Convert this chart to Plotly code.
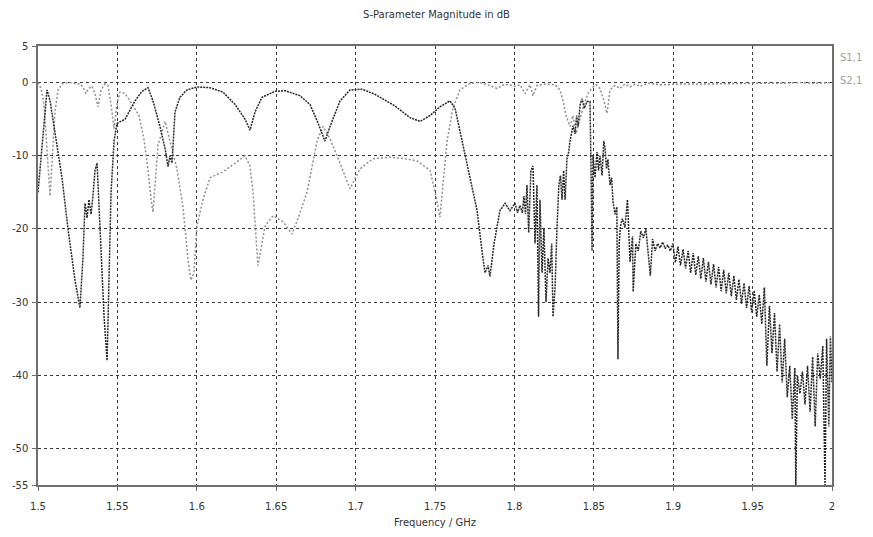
import plotly.graph_objects as go

# S2,1 transmission (GHz, dB)
s21_freq = [
    1.5000, 1.5031, 1.5057, 1.5076, 1.5107, 1.5151, 1.5189, 1.5233, 1.5264, 1.5283,
    1.5296, 1.5309, 1.5321, 1.5334, 1.5346, 1.5359, 1.5372, 1.5390, 1.5416, 1.5435,
    1.5447, 1.5460, 1.5479, 1.5497, 1.5548, 1.5611, 1.5655, 1.5693, 1.5724, 1.5768,
    1.5800, 1.5819, 1.5831, 1.5844, 1.5863, 1.5894, 1.5938, 1.6001, 1.6083, 1.6165,
    1.6241, 1.6304, 1.6335, 1.6367, 1.6411, 1.6492, 1.6555, 1.6650, 1.6713, 1.6763,
    1.6807, 1.6839, 1.6902, 1.6965, 1.7040, 1.7122, 1.7248, 1.7343, 1.7406, 1.7469,
    1.7531, 1.7594, 1.7626, 1.7670, 1.7720, 1.7765, 1.7796, 1.7815, 1.7834, 1.7846,
    1.7872, 1.7909, 1.7941, 1.7972, 1.8004, 1.8020, 1.8035, 1.8050, 1.8060, 1.8070,
    1.8079, 1.8090, 1.8104, 1.8117, 1.8130, 1.8142, 1.8152, 1.8161, 1.8174, 1.8186,
    1.8199, 1.8212, 1.8224, 1.8235, 1.8243, 1.8256, 1.8268, 1.8280, 1.8290, 1.8300,
    1.8310, 1.8319, 1.8331, 1.8342, 1.8350, 1.8360, 1.8369, 1.8382, 1.8392, 1.8401,
    1.8414, 1.8426, 1.8440, 1.8457, 1.8476, 1.8484, 1.8489, 1.8495, 1.8508, 1.8520,
    1.8530, 1.8539, 1.8552, 1.8563, 1.8571, 1.8580, 1.8589, 1.8602, 1.8612, 1.8621,
    1.8634, 1.8645, 1.8652, 1.8660, 1.8668, 1.8680, 1.8696, 1.8712, 1.8728, 1.8744,
    1.8748, 1.8765, 1.8780, 1.8796, 1.8812, 1.8828, 1.8844, 1.8856, 1.8870, 1.8886,
    1.8902, 1.8918, 1.8934, 1.8950, 1.8966, 1.8982, 1.8998, 1.9014, 1.9030, 1.9046,
    1.9062, 1.9078, 1.9094, 1.9110, 1.9126, 1.9142, 1.9158, 1.9174, 1.9190, 1.9206,
    1.9222, 1.9238, 1.9254, 1.9270, 1.9286, 1.9302, 1.9318, 1.9334, 1.9350, 1.9366,
    1.9382, 1.9398, 1.9414, 1.9430, 1.9446, 1.9462, 1.9478, 1.9494, 1.9510, 1.9526,
    1.9542, 1.9558, 1.9574, 1.9590, 1.9606, 1.9622, 1.9638, 1.9654, 1.9670, 1.9686,
    1.9702, 1.9718, 1.9734, 1.9750, 1.9766, 1.9772, 1.9782, 1.9798, 1.9814, 1.9830,
    1.9846, 1.9862, 1.9878, 1.9894, 1.9910, 1.9926, 1.9942, 1.9956, 1.9966, 1.9980,
    1.9990, 2.0000,
]
s21_db = [
    -15.0, -7.0, -1.0, -2.5, -7.0, -13.0, -20.0, -27.0, -30.8, -24.0,
    -16.5, -18.5, -16.0, -18.0, -15.5, -12.0, -11.0, -20.0, -32.0, -38.0,
    -28.0, -15.0, -8.0, -5.6, -5.0, -2.5, -1.2, -0.7, -2.5, -6.0,
    -9.0, -11.5, -10.0, -11.0, -4.0, -2.0, -1.0, -0.6, -0.7, -1.3,
    -3.0, -5.0, -6.5, -4.0, -2.0, -1.2, -1.1, -1.8, -3.0, -5.5,
    -8.0, -6.0, -2.5, -1.0, -0.9, -1.6, -3.2, -4.8, -5.3, -4.5,
    -3.3, -2.5, -3.5, -8.0, -13.0, -17.5, -23.0, -26.0, -25.0, -26.5,
    -22.0, -17.5, -16.5, -17.5, -16.5, -17.8, -16.8, -17.8, -15.5, -18.0,
    -14.0, -20.5, -12.0, -11.4, -22.0, -14.0, -32.0, -16.0, -26.0, -20.0,
    -30.0, -24.0, -26.0, -22.0, -32.0, -28.0, -20.0, -14.0, -12.7, -16.0,
    -12.0, -16.0, -10.4, -9.5, -8.0, -7.0, -5.9, -7.0, -4.5, -6.0,
    -3.0, -2.2, -3.5, -2.6, -2.6, -14.0, -23.0, -10.0, -13.0, -9.5,
    -12.0, -10.0, -12.7, -8.0, -9.0, -11.8, -10.5, -14.0, -13.0, -16.3,
    -18.0, -17.0, -37.8, -22.0, -19.6, -18.6, -19.8, -16.0, -24.5, -21.0,
    -28.6, -22.0, -23.0, -20.3, -21.2, -20.0, -23.5, -26.4, -21.4, -23.0,
    -22.0, -22.6, -21.8, -22.7, -22.2, -23.0, -22.0, -24.6, -22.4, -25.0,
    -22.8, -25.4, -23.0, -26.0, -23.3, -26.3, -23.7, -26.8, -24.0, -27.2,
    -24.5, -27.6, -24.8, -28.0, -25.2, -28.5, -25.6, -28.8, -26.0, -29.2,
    -26.4, -29.7, -26.9, -30.2, -27.4, -30.8, -27.8, -31.4, -28.4, -32.0,
    -29.0, -33.0, -28.0, -38.7, -30.5, -37.0, -31.5, -39.5, -33.0, -41.0,
    -35.0, -43.0, -38.7, -46.0, -39.0, -55.0, -40.0, -42.5, -39.5, -44.0,
    -38.7, -45.0, -37.5, -47.0, -37.0, -40.5, -36.0, -55.0, -35.0, -47.0,
    -34.7, -41.0,
]

# S1,1 reflection (GHz, dB)
s11_freq = [
    1.5000, 1.5019, 1.5038, 1.5057, 1.5069, 1.5076, 1.5088, 1.5107, 1.5126, 1.5157,
    1.5202, 1.5264, 1.5283, 1.5302, 1.5315, 1.5340, 1.5359, 1.5378, 1.5397, 1.5422,
    1.5441, 1.5460, 1.5479, 1.5497, 1.5516, 1.5548, 1.5580, 1.5636, 1.5667, 1.5693,
    1.5712, 1.5724, 1.5737, 1.5756, 1.5787, 1.5800, 1.5831, 1.5875, 1.5913, 1.5944,
    1.5963, 1.5982, 1.6001, 1.6039, 1.6083, 1.6165, 1.6254, 1.6304, 1.6335, 1.6354,
    1.6385, 1.6411, 1.6430, 1.6480, 1.6543, 1.6599, 1.6637, 1.6694, 1.6757, 1.6794,
    1.6839, 1.6883, 1.6965, 1.7028, 1.7110, 1.7217, 1.7311, 1.7387, 1.7469, 1.7506,
    1.7531, 1.7550, 1.7576, 1.7613, 1.7657, 1.7720, 1.7783, 1.7846, 1.7890, 1.7941,
    1.8004, 1.8035, 1.8067, 1.8098, 1.8117, 1.8142, 1.8193, 1.8256, 1.8287, 1.8306,
    1.8325, 1.8350, 1.8369, 1.8388, 1.8413, 1.8438, 1.8463, 1.8489, 1.8514, 1.8539,
    1.8564, 1.8583, 1.8602, 1.8634, 1.8665, 1.8696, 1.8728, 1.8759, 1.8791, 1.8841,
    1.8917, 1.9043, 1.9200, 1.9350, 1.9500, 1.9650, 1.9800, 1.9900, 2.0000,
]
s11_db = [
    0.0, -0.8, -3.0, -9.0, -14.0, -15.5, -11.0, -4.0, -1.0, -0.1,
    0.0, -0.2, -0.6, -1.5, -0.9, -0.5, -1.5, -3.3, -1.0, -0.2,
    -0.4, -3.0, -6.3, -3.0, -1.3, -1.5, -2.5, -4.5, -7.7, -12.0,
    -16.0, -17.7, -14.0, -8.5, -6.3, -5.3, -8.0, -11.8, -17.0, -24.0,
    -27.0, -26.0, -19.6, -16.0, -13.0, -12.2, -10.8, -10.0, -11.4, -15.0,
    -25.0, -22.0, -19.6, -18.2, -19.0, -20.7, -18.6, -15.0, -8.0, -6.0,
    -7.7, -10.0, -14.5, -11.8, -10.4, -10.2, -10.4, -10.7, -12.0, -15.5,
    -18.4, -14.0, -8.0, -3.5, -1.0, -0.1, 0.0, -0.4, -0.8, -0.2,
    -0.5, -0.3, -1.5, -0.3, -1.8, -0.4, -0.2, -0.3, -1.0, -2.5,
    -4.5, -6.0, -4.5, -7.0, -5.0, -3.0, -1.5, -0.7, -0.3, -0.8,
    -2.5, -4.2, -1.0, -0.4, -0.8, -0.2, -0.6, -0.2, -0.5, -0.1,
    -0.3, -0.2, -0.2, -0.1, -0.1, -0.1, 0.0, -0.1, 0.0,
]

x_ticks = [1.5, 1.55, 1.6, 1.65, 1.7, 1.75, 1.8, 1.85, 1.9, 1.95, 2.0]
x_tick_text = ["1.5", "1.55", "1.6", "1.65", "1.7", "1.75", "1.8", "1.85", "1.9", "1.95", "2"]
y_ticks = [5, 0, -10, -20, -30, -40, -50, -55]
y_tick_text = ["5", "0", "-10", "-20", "-30", "-40", "-50", "-55"]

series_names = ["S1,1", "S2,1"]

FONT = "DejaVu Sans"
TEXT = "#333333"

fig = go.Figure()
fig.add_trace(go.Scatter(
    x=s11_freq, y=s11_db, mode="lines", name=series_names[0],
    line=dict(color="#8f8f8f", width=1.5, dash="2px,2px"),
))
fig.add_trace(go.Scatter(
    x=s21_freq, y=s21_db, mode="lines", name=series_names[1],
    line=dict(color="#262626", width=1.5, dash="2px,1px"),
))

axis_common = dict(
    showline=True, linecolor="#6e6e6e", linewidth=1.5, mirror=True,
    ticks="outside", ticklen=4, tickcolor="#6e6e6e",
    showgrid=True, gridcolor="#3a3a3a", gridwidth=1, griddash="3px,3px",
    zeroline=False, automargin=False,
    tickfont=dict(family=FONT, size=10, color=TEXT),
)

fig.update_layout(
    width=873, height=537,
    margin=dict(l=38, r=41, t=46, b=52),
    paper_bgcolor="white", plot_bgcolor="white",
    showlegend=False,
    title=dict(text="S-Parameter Magnitude in dB", x=0.5, xanchor="center",
               y=1 - 14 / 537, yanchor="middle",
               font=dict(family=FONT, size=10, color=TEXT)),
    xaxis=dict(range=[1.5, 2.0], tickvals=x_ticks, ticktext=x_tick_text,
               ticklabelstandoff=7,
               title=dict(text="Frequency / GHz", standoff=8,
                          font=dict(family=FONT, size=10, color=TEXT)),
               **axis_common),
    yaxis=dict(range=[-55, 5], tickvals=y_ticks, ticktext=y_tick_text,
               ticklabelstandoff=2,
               **axis_common),
)

# series labels to the right of the plot frame (plot area spans 439 px vertically)
label_rows_px = [58, 80]
for name, row_px in zip(series_names, label_rows_px):
    fig.add_annotation(
        text=name, xref="paper", yref="paper",
        x=1.0 + 6 / 794, y=(485 - row_px) / 439,
        xanchor="left", yanchor="middle", showarrow=False,
        font=dict(family=FONT, size=10, color="#a0a0a0"),
    )

fig.write_html("out.html")
